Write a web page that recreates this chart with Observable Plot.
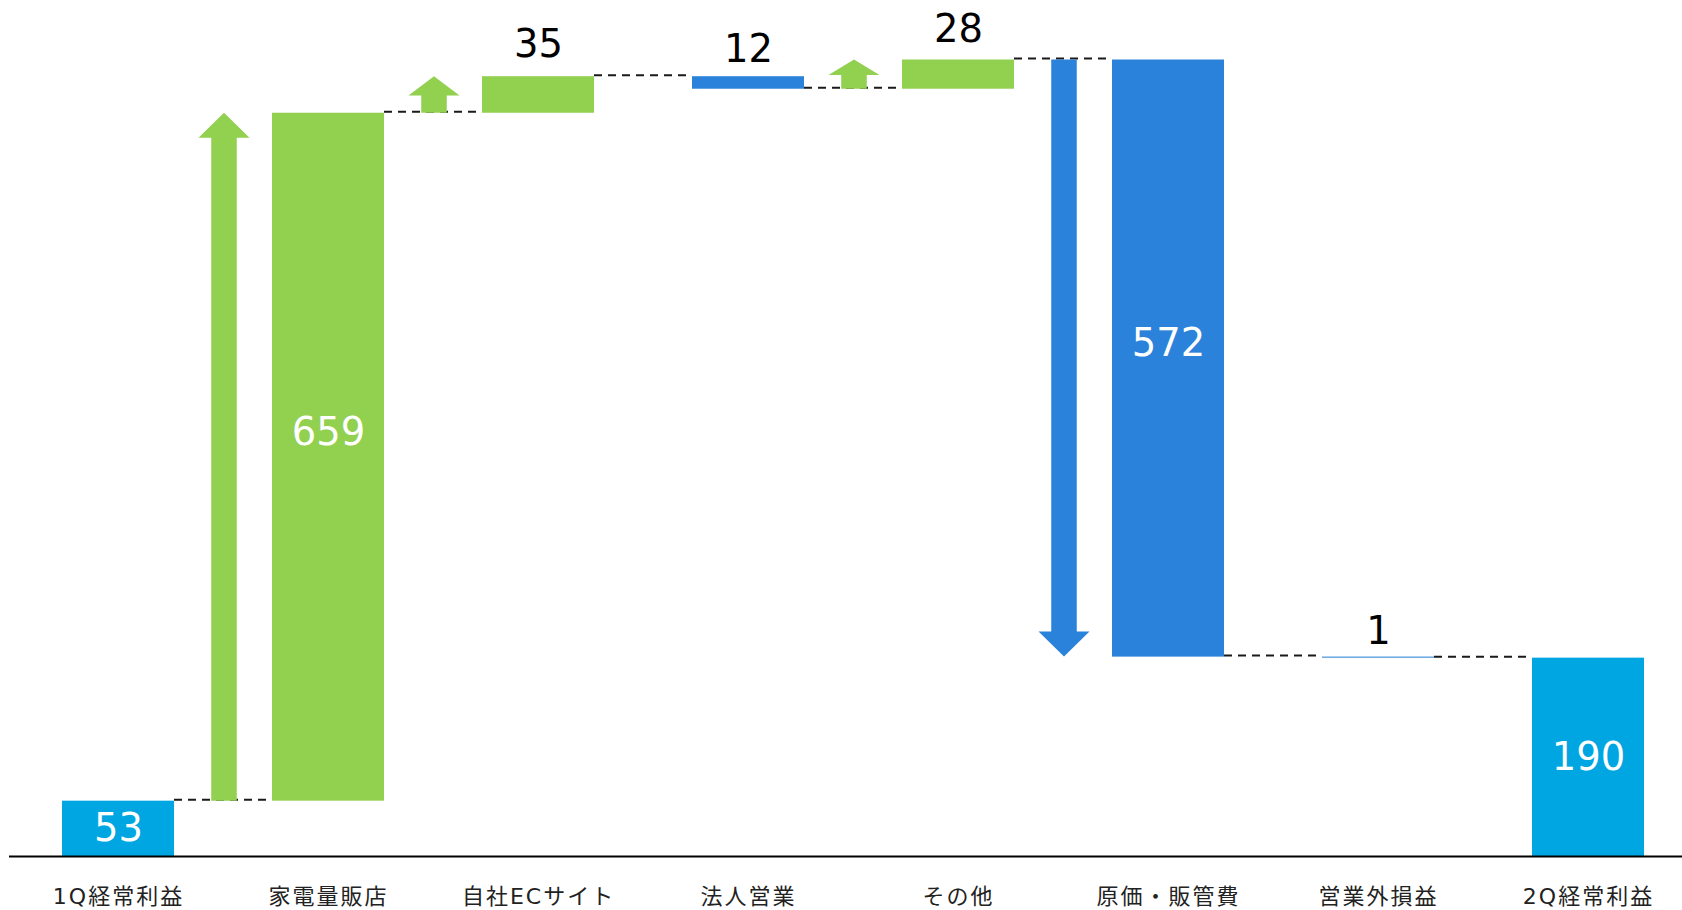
<!DOCTYPE html>
<html><head><meta charset="utf-8">
<script src="https://cdn.jsdelivr.net/npm/d3@7"></script>
<script src="https://cdn.jsdelivr.net/npm/@observablehq/plot@0.6"></script>
<style>
html,body{margin:0;padding:0;background:#fff;overflow:hidden}
#chart svg g[aria-label="x-axis tick label"] text{letter-spacing:2px}
</style>
</head><body><div id="chart"></div>
<script>
const categories = ["1Q経常利益","家電量販店","自社ECサイト","法人営業","その他","原価・販管費","営業外損益","2Q経常利益"];
const values = [53, 659, 35, -12, 28, -572, -1, 190];
const kinds = ["total","delta","delta","delta","delta","delta","delta","total"];
const labelPlacement = ["inside","inside","above","above","above","inside","above","inside"];
const arrowCategories = ["家電量販店","自社ECサイト","その他","原価・販管費"];
const colors = {total:"#00A6E2", up:"#92D050", down:"#2A82DA"};

let cum = 0;
const rows = categories.map((c, i) => {
  const v = values[i];
  let start, end, type;
  if (kinds[i] === "total") { start = 0; end = v; type = "total"; }
  else { start = cum; end = cum + v; type = v >= 0 ? "up" : "down"; }
  cum = end;
  return {category: c, value: v, start, end, lo: Math.min(start, end), hi: Math.max(start, end),
          type, placement: labelPlacement[i], arrow: arrowCategories.includes(c)};
});

const FONT = "'DejaVu Sans', 'Noto Sans CJK JP', sans-serif";
const labelFrac = {total: 0.5, up: 0.535, down: 0.525};

function bw(x) { return typeof x.bandwidth === "function" ? x.bandwidth() : (x.bandwidth ?? 0); }

// connectors + arrows drawn with the plot's own scales
function overlay(index, scales) {
  const x = scales.x, y = scales.y, w = bw(x);
  const g = d3.create("svg:g");
  for (let i = 0; i < rows.length - 1; i++) {
    const a = rows[i], b = rows[i + 1];
    g.append("line")
      .attr("x1", x(a.category) + w).attr("x2", x(b.category))
      .attr("y1", y(a.end) - 1).attr("y2", y(a.end) - 1)
      .attr("stroke", "#1a1a1a").attr("stroke-width", 2).attr("stroke-dasharray", "8,6");
  }
  rows.forEach((d, i) => {
    if (!d.arrow || i === 0) return;
    const prev = rows[i - 1];
    const cx = (x(prev.category) + w + x(d.category)) / 2 + 1;
    const y0 = y(d.start), y1 = y(d.end);
    const len = Math.abs(y0 - y1), s = y1 < y0 ? 1 : -1;
    const hh = Math.min(25, 0.53 * len), sw = 12.75, hw = 25.5;
    const yb = y1 + s * hh;
    const pts = [[cx - sw, y0], [cx - sw, yb], [cx - hw, yb], [cx, y1], [cx + hw, yb], [cx + sw, yb], [cx + sw, y0]];
    g.append("path").attr("d", "M" + pts.map(p => p.join(",")).join("L") + "Z")
      .attr("fill", colors[d.type]);
  });
  return g.node();
}

const chart = Plot.plot({
  width: 1682,
  height: 910,
  marginLeft: 9,
  marginRight: 0,
  marginTop: 0,
  marginBottom: 54,
  style: {fontFamily: FONT, background: "#fff", color: "#222"},
  x: {domain: categories, range: [9.6, 1696.4], paddingInner: 0.469, paddingOuter: 0.2345, align: 0.5},
  y: {domain: [0, 820], range: [856, 0], axis: null},
  marks: [
    Plot.barY(rows, {x: "category", y1: "lo", y2: "hi", fill: d => colors[d.type]}),
    overlay,
    Plot.ruleY([0], {stroke: "#000", strokeWidth: 2}),
    Plot.text(rows.filter(d => d.placement === "inside"), {
      x: "category",
      y: d => d.lo + labelFrac[d.type] * (d.hi - d.lo),
      text: d => String(Math.abs(d.value)),
      fill: "#fff", fontSize: 38.5, fontFamily: FONT
    }),
    Plot.text(rows.filter(d => d.placement === "above"), {
      x: "category",
      y: d => d.hi + 0.17 * (d.hi - d.lo),
      text: d => String(Math.abs(d.value)),
      lineAnchor: "bottom", dy: -13,
      fill: "#000", fontSize: 38.5, fontFamily: FONT
    }),
    Plot.axisX({tickSize: 0, tickPadding: 32, fontSize: 22, label: null, fill: "#222", fontFamily: FONT})
  ]
});
document.getElementById("chart").appendChild(chart);
</script>
</body></html>
